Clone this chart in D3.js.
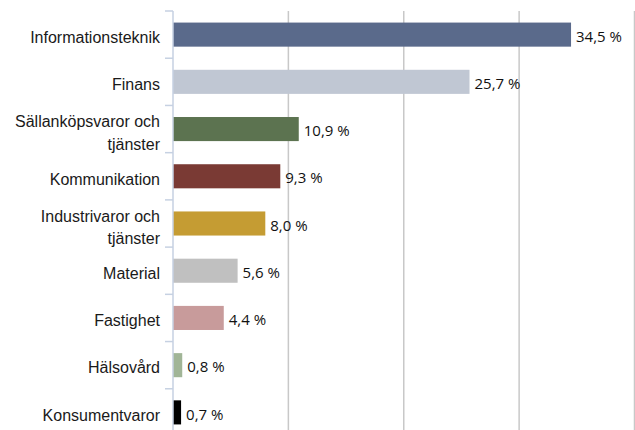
<!DOCTYPE html>
<html>
<head>
<meta charset="utf-8">
<script src="https://cdn.jsdelivr.net/npm/d3@7.9.0/dist/d3.min.js"></script>
<style>
  body { margin: 0; background: #fff; }
</style>
</head>
<body>
<svg id="chart" width="635" height="430"></svg>
<script>
// sector weights, top to bottom
const categories = [
  "Informationsteknik", "Finans", "Sällanköpsvaror och tjänster",
  "Kommunikation", "Industrivaror och tjänster", "Material",
  "Fastighet", "Hälsovård", "Konsumentvaror"
];
const values = [34.5, 25.7, 10.9, 9.3, 8.0, 5.6, 4.4, 0.8, 0.7];
const colors = [
  "#5a6a8b", "#c0c7d3", "#5c7350", "#7a3a34", "#c59c33",
  "#c0c0c0", "#c89b9b", "#a1b597", "#000000"
];
const xTicks = [10, 20, 30, 40];

const svg = d3.select("#chart");

const x = d3.scaleLinear().domain([0, 40]).range([173, 634.5]);
const y = d3.scaleBand().domain(categories).range([11, 436]).paddingInner(0.49).paddingOuter(0.245);

// gridlines
svg.selectAll(".grid")
  .data(xTicks)
  .join("line")
  .attr("class", "grid")
  .attr("x1", d => x(d)).attr("x2", d => x(d))
  .attr("y1", 11).attr("y2", 430)
  .attr("stroke", "#c8c8c8")
  .attr("stroke-width", 1.5);

// bars
svg.selectAll(".bar")
  .data(values)
  .join("rect")
  .attr("class", "bar")
  .attr("x", x(0))
  .attr("y", (d, i) => y(categories[i]))
  .attr("width", d => x(d) - x(0))
  .attr("height", y.bandwidth())
  .attr("fill", (d, i) => colors[i]);

// y axis line + ticks between bands
const step = y.step();
svg.append("line")
  .attr("x1", 173).attr("x2", 173)
  .attr("y1", 11).attr("y2", 430)
  .attr("stroke", "#c6d1e2").attr("stroke-width", 1.5);
svg.selectAll(".ytick")
  .data(d3.range(categories.length + 1))
  .join("line")
  .attr("class", "ytick")
  .attr("x1", 165).attr("x2", 173)
  .attr("y1", i => 11 + i * step).attr("y2", i => 11 + i * step)
  .attr("stroke", "#c6d1e2").attr("stroke-width", 1.5);

// category labels (wrap "... och" / "tjänster")
svg.selectAll(".cat")
  .data(categories)
  .join("text")
  .attr("class", "cat")
  .attr("x", 160)
  .attr("y", d => y(d) + y.bandwidth() / 2)
  .attr("text-anchor", "end")
  .style("font-family", "'Liberation Sans', Arial, sans-serif")
  .style("font-size", "16px")
  .attr("fill", "#1a1a1a")
  .each(function (d) {
    const t = d3.select(this);
    const m = d.match(/^(.* och) (.*)$/);
    if (m) {
      t.append("tspan").attr("x", 160).attr("dy", "-0.1em").text(m[1]);
      t.append("tspan").attr("x", 160).attr("dy", "1.38em").text(m[2]);
    } else {
      t.attr("dy", "0.52em").text(d);
    }
  });

// value labels
svg.selectAll(".val")
  .data(values)
  .join("text")
  .attr("class", "val")
  .attr("x", d => x(d) + 5)
  .attr("y", (d, i) => y(categories[i]) + y.bandwidth() / 2)
  .attr("dy", "0.48em")
  .style("font-family", "'Open Sans', sans-serif")
  .style("font-size", "15px")
  .attr("fill", "#111")
  .text(d => d.toFixed(1).replace(".", ",") + " %");
</script>
</body>
</html>
